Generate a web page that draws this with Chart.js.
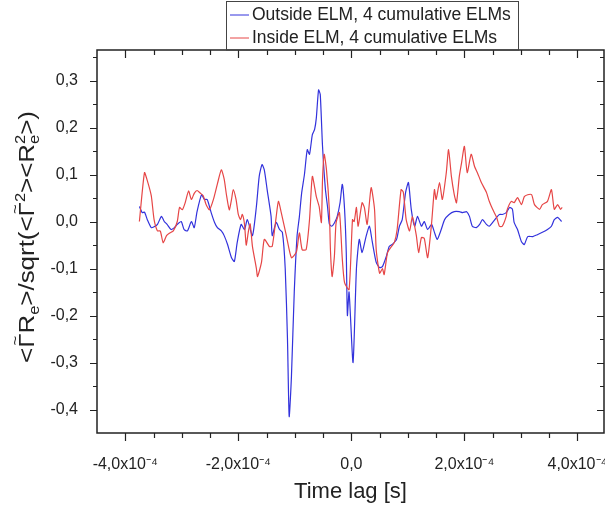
<!DOCTYPE html>
<html>
<head>
<meta charset="utf-8">
<script src="https://cdn.jsdelivr.net/npm/chart.js@4.4.0/dist/chart.umd.min.js"></script>
<style>
  html, body { margin: 0; padding: 0; background: #fff; }
  #wrap { width: 605px; height: 508px; }
</style>
</head>
<body>
<div id="wrap"><canvas id="c" width="605" height="508"></canvas></div>
<script>
// time lag in units of 1e-4 s
const outsideT = [
  -3.75, -3.70, -3.66, -3.61, -3.54, -3.49, -3.43, -3.36, -3.31, -3.26,
  -3.19, -3.13, -3.08, -3.01, -2.96, -2.90, -2.83, -2.78, -2.73, -2.65,
  -2.60, -2.55, -2.48, -2.42, -2.37, -2.30, -2.25, -2.19, -2.12, -2.07,
  -2.02, -1.95, -1.89, -1.84, -1.75, -1.68, -1.63, -1.58, -1.54, -1.49,
  -1.42, -1.40, -1.33, -1.27, -1.22, -1.17, -1.13, -1.10, -1.06, -1.01,
  -0.96, -0.92, -0.88, -0.83, -0.78, -0.74, -0.69, -0.65, -0.62, -0.58,
  -0.55, -0.51, -0.46, -0.42, -0.39, -0.35, -0.30, -0.25, -0.20, -0.16,
  -0.12, -0.09, -0.07, -0.04, 0.03, 0.09, 0.14, 0.19, 0.26, 0.32,
  0.37, 0.44, 0.50, 0.55, 0.62, 0.67, 0.73, 0.80, 0.85, 0.90,
  0.96, 1.01, 1.06, 1.12, 1.17, 1.24, 1.29, 1.35, 1.42, 1.47,
  1.52, 1.59, 1.65, 1.73, 1.82, 1.91, 1.97, 2.04, 2.09, 2.14,
  2.21, 2.27, 2.32, 2.39, 2.44, 2.50, 2.57, 2.62, 2.67, 2.74,
  2.80, 2.85, 2.88, 2.94, 3.01, 3.06, 3.12, 3.21, 3.29, 3.38,
  3.47, 3.54, 3.59, 3.65, 3.72
]
const outsideV = [
  0.032, 0.019, 0.02, 0.004, -0.013, -0.011, -0.006, 0.011, 0.0, -0.006,
  -0.017, -0.013, -0.006, 0.0, -0.017, -0.02, 0.0, -0.013, 0.021, 0.057,
  0.047, 0.047, 0.019, -0.002, -0.013, -0.02, -0.03, -0.049, -0.077, -0.085,
  -0.045, -0.006, -0.017, 0.004, -0.03, 0.032, 0.096, 0.121, 0.11, 0.068,
  0.011, -0.03, -0.002, -0.017, -0.023, -0.10, -0.25, -0.415, -0.33, -0.15,
  -0.03, 0.01, 0.06, 0.10, 0.153, 0.143, 0.185, 0.196, 0.22, 0.28,
  0.27, 0.16, 0.07, 0.03, -0.005, -0.01, -0.003, 0.011, 0.04, 0.079,
  0.026, -0.066, -0.20, -0.15, -0.30, -0.10, -0.038, -0.066, -0.032, -0.01,
  -0.043, -0.087, -0.098, -0.096, -0.074, -0.053, -0.048, -0.038, -0.01, 0.004,
  0.062, 0.083, 0.026, -0.01, 0.011, -0.01, 0.0, -0.017, -0.006, -0.023,
  -0.038, -0.017, 0.004, 0.015, 0.021, 0.021, 0.019, 0.021, 0.011, -0.01,
  -0.013, -0.006, 0.004, -0.006, -0.01, -0.002, 0.009, 0.015, 0.015, 0.019,
  0.03, 0.026, -0.002, -0.017, -0.043, -0.049, -0.032, -0.032, -0.028, -0.023,
  -0.017, -0.01, 0.004, 0.009, 0.0
]
const insideT = [
  -3.75, -3.66, -3.61, -3.54, -3.49, -3.43, -3.38, -3.33, -3.27, -3.22,
  -3.15, -3.08, -3.04, -2.99, -2.94, -2.88, -2.83, -2.78, -2.73, -2.67,
  -2.62, -2.57, -2.51, -2.44, -2.37, -2.30, -2.25, -2.21, -2.16, -2.12,
  -2.09, -2.04, -2.00, -1.96, -1.93, -1.89, -1.86, -1.82, -1.79, -1.75,
  -1.68, -1.66, -1.59, -1.54, -1.45, -1.40, -1.33, -1.29, -1.24, -1.15,
  -1.06, -0.97, -0.92, -0.87, -0.80, -0.74, -0.69, -0.62, -0.57, -0.53,
  -0.51, -0.48, -0.44, -0.39, -0.37, -0.34, -0.30, -0.27, -0.21, -0.16,
  -0.12, -0.04, 0.02, 0.05, 0.09, 0.12, 0.19, 0.23, 0.28, 0.35,
  0.41, 0.44, 0.50, 0.55, 0.58, 0.64, 0.71, 0.76, 0.81, 0.88,
  0.92, 0.97, 1.03, 1.08, 1.15, 1.19, 1.24, 1.29, 1.35, 1.42,
  1.47, 1.50, 1.56, 1.61, 1.68, 1.72, 1.77, 1.82, 1.86, 1.91,
  1.95, 2.00, 2.05, 2.12, 2.18, 2.23, 2.30, 2.39, 2.44, 2.50,
  2.57, 2.62, 2.67, 2.74, 2.76, 2.83, 2.88, 2.94, 3.01, 3.06,
  3.12, 3.19, 3.24, 3.33, 3.38, 3.47, 3.54, 3.59, 3.65, 3.70,
  3.73
]
const insideV = [
  0.0, 0.104, 0.087, 0.055, 0.004, -0.02, -0.02, -0.045, -0.03, -0.025,
  -0.02, 0.0, 0.03, 0.025, 0.04, 0.065, 0.047, 0.06, 0.066, 0.06,
  0.055, 0.036, 0.025, 0.047, 0.08, 0.11, 0.09, 0.057, 0.025, 0.047,
  0.068, 0.047, 0.015, 0.004, 0.015, -0.006, -0.05, -0.02, -0.005, -0.053,
  -0.10, -0.117, -0.087, -0.038, -0.053, -0.053, 0.01, 0.043, 0.019, -0.03,
  -0.077, -0.064, -0.024, -0.06, -0.06, 0.004, 0.096, 0.053, 0.032, -0.002,
  0.089, 0.143, 0.11, 0.026, -0.06, -0.117, -0.074, -0.003, 0.019, -0.08,
  -0.13, -0.145, 0.004, 0.0, 0.03, -0.01, 0.04, 0.03, -0.006, 0.072,
  0.026, -0.06, -0.11, -0.10, -0.113, -0.066, -0.053, -0.045, -0.017, 0.068,
  0.062, 0.004, -0.02, 0.01, -0.03, -0.066, -0.034, -0.036, -0.077, -0.003,
  0.068, 0.047, 0.083, 0.047, 0.104, 0.153, 0.096, 0.058, 0.04, 0.096,
  0.125, 0.16, 0.104, 0.143, 0.117, 0.104, 0.083, 0.062, 0.043, 0.026,
  0.009, -0.01, -0.01, 0.011, 0.026, 0.043, 0.04, 0.051, 0.036, 0.053,
  0.057, 0.057, 0.036, 0.026, 0.036, 0.043, 0.068, 0.026, 0.036, 0.026,
  0.03
]
const xMajor = [-4, -2, 0, 2, 4]
const xMinor = [-3.5, -3, -2.5, -1.5, -1, -0.5, 0.5, 1, 1.5, 2.5, 3, 3.5]
const yMajor = [-0.4, -0.3, -0.2, -0.1, 0, 0.1, 0.2, 0.3]
const yMinor = [-0.35, -0.25, -0.15, -0.05, 0.05, 0.15, 0.25, 0.35]
const seriesNames = ['Outside ELM, 4 cumulative ELMs', 'Inside ELM, 4 cumulative ELMs']
const seriesColors = ['#3232dc', '#e64646']

const FONT = "'Liberation Sans', Arial, sans-serif"
const INK = '#222'

// y title pieces: sub/sup smaller and shifted, keep = don't advance (stacked e and 2),
// over = small tilde centred over the previous glyph
const yTitle = [
  {t: '<'}, {t: 'Γ'}, {t: '~', over: true}, {t: 'R'}, {t: 'e', sub: true},
  {t: '>/sqrt(<'}, {t: 'Γ'}, {t: '~', over: true}, {t: '2', sup: true},
  {t: '><R'}, {t: 'e', sub: true, keep: true}, {t: '2', sup: true}, {t: '>)'}
]

function drawRich(ctx, parts, cx, cy, size, len) {
  const small = Math.round(size * 0.62)
  const fontOf = p => (p.sub || p.sup || p.over ? small : size) + 'px ' + FONT
  const w = p => { ctx.font = fontOf(p); return ctx.measureText(p.t).width }
  let total = 0
  parts.forEach(p => { if (!p.keep && !p.over) total += w(p) })
  ctx.save()
  ctx.translate(cx, cy)
  ctx.rotate(-Math.PI / 2)
  ctx.scale(len / total, 1)
  ctx.fillStyle = INK
  ctx.textBaseline = 'alphabetic'
  let x = -total / 2, prevX = x, prevW = 0
  parts.forEach(p => {
    const pw = w(p)
    let dy = size * 0.36
    if (p.sub) dy += size * 0.22
    if (p.sup) dy -= size * 0.42
    if (p.over) {
      ctx.fillText(p.t, prevX + (prevW - pw) / 2, dy - size * 0.62)
      return
    }
    ctx.fillText(p.t, x, dy)
    prevX = x; prevW = pw
    if (!p.keep) x += pw
  })
  ctx.restore()
}

const frame = {
  id: 'frame',
  afterDraw(chart) {
    const {ctx, chartArea: a, scales: {x, y}} = chart
    ctx.save()
    ctx.strokeStyle = INK
    ctx.lineWidth = 1.5
    ctx.strokeRect(a.left, a.top, a.right - a.left, a.bottom - a.top)

    ctx.lineWidth = 1.2
    ctx.beginPath()
    xMajor.concat(xMinor).forEach(v => {
      const px = Math.round(x.getPixelForValue(v)) + 0.5
      const len = xMajor.includes(v) ? 8 : 5
      ctx.moveTo(px, a.bottom); ctx.lineTo(px, a.bottom + len)
      ctx.moveTo(px, a.top); ctx.lineTo(px, a.top + len)
    })
    yMajor.concat(yMinor).forEach(v => {
      const py = Math.round(y.getPixelForValue(v)) + 0.5
      const len = yMajor.includes(v) ? 7 : 4
      ctx.moveTo(a.left, py); ctx.lineTo(a.left - len, py)
      ctx.moveTo(a.right, py); ctx.lineTo(a.right - len, py)
    })
    ctx.stroke()

    // legend box above the plot
    ctx.lineWidth = 1
    ctx.strokeStyle = '#444'
    ctx.strokeRect(226.5, 1.5, 292, a.top - 1.5)
    ctx.font = '17.5px ' + FONT
    ctx.textBaseline = 'middle'
    seriesNames.forEach((name, i) => {
      const ly = 15 + i * 23
      ctx.strokeStyle = seriesColors[i]
      ctx.beginPath()
      ctx.moveTo(230, ly); ctx.lineTo(249, ly)
      ctx.stroke()
      ctx.fillStyle = INK
      ctx.fillText(name, 252, ly)
    })

    drawRich(ctx, yTitle, 26, 237, 22, 252)
    ctx.restore()
  }
}

const mk = (ts, vs) => ts.map((t, i) => ({x: t, y: vs[i]}))
const num = v => v.toFixed(1).replace('.', ',')

new Chart(document.getElementById('c'), {
  type: 'line',
  data: {
    datasets: [
      {label: seriesNames[0], data: mk(outsideT, outsideV), borderColor: seriesColors[0],
       borderWidth: 1.2, pointRadius: 0, tension: 0.2, order: 1},
      {label: seriesNames[1], data: mk(insideT, insideV), borderColor: seriesColors[1],
       borderWidth: 1.2, pointRadius: 0, tension: 0.2, order: 0}
    ]
  },
  options: {
    responsive: false,
    animation: false,
    layout: {padding: {top: 50, right: 1, left: 0, bottom: 0}, autoPadding: false},
    plugins: {legend: {display: false}, tooltip: {enabled: false}},
    scales: {
      x: {
        type: 'linear', min: -4.5, max: 4.47,
        afterFit: s => { s.height = 75; s.paddingLeft = 0; s.paddingRight = 0 },
        afterBuildTicks: s => { s.ticks = xMajor.map(v => ({value: v})) },
        grid: {display: false}, border: {display: false},
        ticks: {
          font: {family: FONT, size: 16}, color: INK, padding: 14, maxRotation: 0, autoSkip: false,
          callback: v => v === 0 ? '0,0' : num(v) + 'x10\u207B\u2074'
        },
        title: {display: true, text: 'Time lag [s]', color: INK,
                font: {family: FONT, size: 22}, padding: {top: 0, bottom: 3}}
      },
      y: {
        min: -0.45, max: 0.365,
        afterFit: s => { s.width = 97; s.paddingTop = 0; s.paddingBottom = 0 },
        afterBuildTicks: s => { s.ticks = yMajor.map(v => ({value: v})) },
        grid: {display: false}, border: {display: false},
        ticks: {font: {family: FONT, size: 16}, color: INK, padding: 11, callback: v => num(v)}
      }
    }
  },
  plugins: [frame]
})
</script>
</body>
</html>
